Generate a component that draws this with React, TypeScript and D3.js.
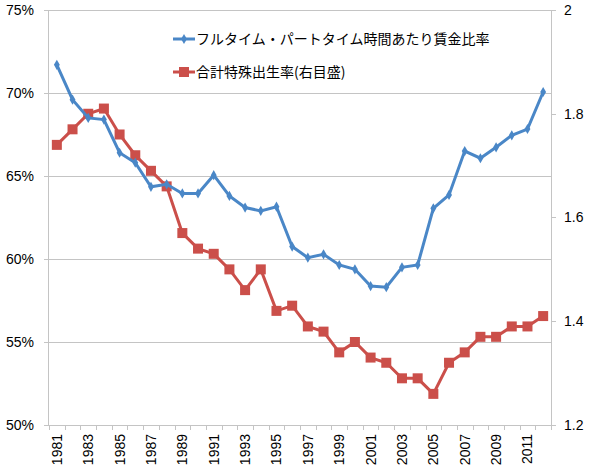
import React, { useEffect, useRef } from 'react';
import * as d3 from 'd3';

// years on the x axis
const years: number[] = d3.range(1981, 2013);

// full-time vs part-time hourly wage ratio (%), left axis
const wageRatio: number[] = [
  71.7, 69.6, 68.5, 68.4, 66.4, 65.8, 64.35, 64.5, 63.95, 63.95, 65.05, 63.8,
  63.1, 62.9, 63.15, 60.75, 60.08, 60.28, 59.64, 59.38, 58.37, 58.3, 59.5,
  59.64, 63.05, 63.86, 66.5, 66.07, 66.73, 67.45, 67.83, 70.06,
];

// total fertility rate, right axis
const fertility: number[] = [
  1.74, 1.77, 1.8, 1.81, 1.76, 1.72, 1.69, 1.66, 1.57, 1.54, 1.53, 1.5, 1.46,
  1.5, 1.42, 1.43, 1.39, 1.38, 1.34, 1.36, 1.33, 1.32, 1.29, 1.29, 1.26, 1.32,
  1.34, 1.37, 1.37, 1.39, 1.39, 1.41,
];

const leftTicks: number[] = [50, 55, 60, 65, 70, 75];
const rightTicks: number[] = [1.2, 1.4, 1.6, 1.8, 2];

const seriesNames: string[] = [
  'フルタイム・パートタイム時間あたり賃金比率',
  '合計特殊出生率(右目盛)',
];

const BLUE = '#4A87C7';
const RED = '#CB4F4A';

const App: React.FC = () => {
  const chartRef = useRef<SVGSVGElement | null>(null);
  const width = 592;
  const height = 474;

  useEffect(() => {
    if (!chartRef.current) return;
    const svg = d3.select(chartRef.current);
    svg.selectAll('*').remove();

    const margin = { top: 10, right: 41, bottom: 49, left: 49 };
    const innerW = width - margin.left - margin.right;
    const innerH = height - margin.top - margin.bottom;

    const g = svg
      .append('g')
      .attr('transform', `translate(${margin.left},${margin.top})`);

    const x = d3
      .scaleBand<number>()
      .domain(years)
      .range([0, innerW])
      .padding(0);
    const cx = (yr: number) => (x(yr) as number) + x.bandwidth() / 2;

    const yL = d3.scaleLinear().domain([50, 75]).range([innerH, 0]);
    const yR = d3.scaleLinear().domain([1.2, 2]).range([innerH, 0]);

    const tickFont = '"Liberation Sans", Arial, sans-serif';

    // gridlines
    g.selectAll('line.grid')
      .data(leftTicks.filter((t) => t !== 50))
      .enter()
      .append('line')
      .attr('x1', 0)
      .attr('x2', innerW)
      .attr('y1', (d) => Math.round(yL(d)) + 0.5)
      .attr('y2', (d) => Math.round(yL(d)) + 0.5)
      .attr('stroke', '#c4c4c4')
      .attr('stroke-width', 1);

    // left axis
    const left = g.append('g');
    left
      .append('line')
      .attr('x1', -0.5)
      .attr('x2', -0.5)
      .attr('y1', 0)
      .attr('y2', innerH)
      .attr('stroke', '#c4c4c4');
    left
      .selectAll('line.tick')
      .data(leftTicks)
      .enter()
      .append('line')
      .attr('x1', -5)
      .attr('x2', 0)
      .attr('y1', (d) => Math.round(yL(d)) + 0.5)
      .attr('y2', (d) => Math.round(yL(d)) + 0.5)
      .attr('stroke', '#c4c4c4');
    left
      .selectAll('text')
      .data(leftTicks)
      .enter()
      .append('text')
      .attr('x', -15)
      .attr('y', (d) => yL(d))
      .attr('dy', '0.35em')
      .attr('text-anchor', 'end')
      .attr('font-family', tickFont)
      .attr('font-size', 14)
      .text((d) => `${d}%`);

    // right axis
    const right = g.append('g').attr('transform', `translate(${innerW},0)`);
    right
      .append('line')
      .attr('x1', 0.5)
      .attr('x2', 0.5)
      .attr('y1', 0)
      .attr('y2', innerH)
      .attr('stroke', '#c4c4c4');
    right
      .selectAll('line.tick')
      .data(rightTicks)
      .enter()
      .append('line')
      .attr('x1', 0)
      .attr('x2', 5)
      .attr('y1', (d) => Math.round(yR(d)) + 0.5)
      .attr('y2', (d) => Math.round(yR(d)) + 0.5)
      .attr('stroke', '#c4c4c4');
    right
      .selectAll('text')
      .data(rightTicks)
      .enter()
      .append('text')
      .attr('x', 13)
      .attr('y', (d) => yR(d))
      .attr('dy', '0.35em')
      .attr('font-family', tickFont)
      .attr('font-size', 14)
      .text((d) => d3.format('~g')(d));

    // bottom axis
    const bottom = g.append('g').attr('transform', `translate(0,${innerH})`);
    bottom
      .append('line')
      .attr('x1', 0)
      .attr('x2', innerW)
      .attr('y1', 0.5)
      .attr('y2', 0.5)
      .attr('stroke', '#c4c4c4');
    bottom
      .selectAll('line.tick')
      .data([...years.map((yr) => x(yr) as number), innerW])
      .enter()
      .append('line')
      .attr('x1', (d) => Math.round(d) + 0.5)
      .attr('x2', (d) => Math.round(d) + 0.5)
      .attr('y1', 0)
      .attr('y2', 5)
      .attr('stroke', '#c4c4c4');
    bottom
      .selectAll('text')
      .data(years.filter((yr) => (yr - 1981) % 2 === 0))
      .enter()
      .append('text')
      .attr('transform', (d) => `translate(${cx(d)},9) rotate(-90)`)
      .attr('dy', '0.35em')
      .attr('text-anchor', 'end')
      .attr('font-family', tickFont)
      .attr('font-size', 14)
      .text((d) => d);

    // lines
    const blueLine = d3
      .line<number>()
      .x((_, i) => cx(years[i]))
      .y((d) => yL(d));
    const redLine = d3
      .line<number>()
      .x((_, i) => cx(years[i]))
      .y((d) => yR(d));

    g.append('path')
      .datum(fertility)
      .attr('fill', 'none')
      .attr('stroke', RED)
      .attr('stroke-width', 3)
      .attr('d', redLine);
    g.selectAll('rect.red')
      .data(fertility)
      .enter()
      .append('rect')
      .attr('x', (_, i) => cx(years[i]) - 5)
      .attr('y', (d) => yR(d) - 5)
      .attr('width', 10)
      .attr('height', 10)
      .attr('fill', RED);

    g.append('path')
      .datum(wageRatio)
      .attr('fill', 'none')
      .attr('stroke', BLUE)
      .attr('stroke-width', 3)
      .attr('d', blueLine);
    const diamond = d3.symbol().type(d3.symbolDiamond).size(30);
    g.selectAll('path.blue')
      .data(wageRatio)
      .enter()
      .append('path')
      .attr('transform', (d, i) => `translate(${cx(years[i])},${yL(d)})`)
      .attr('d', diamond)
      .attr('fill', BLUE);

    // legend
    const legend = svg.append('g');
    const legendRows = [
      { name: seriesNames[0], color: BLUE, y: 39, marker: 'diamond' },
      { name: seriesNames[1], color: RED, y: 72, marker: 'square' },
    ];
    legendRows.forEach((r) => {
      legend
        .append('line')
        .attr('x1', 173)
        .attr('x2', 195)
        .attr('y1', r.y)
        .attr('y2', r.y)
        .attr('stroke', r.color)
        .attr('stroke-width', 3);
      if (r.marker === 'diamond') {
        legend
          .append('path')
          .attr('transform', `translate(184,${r.y})`)
          .attr('d', diamond)
          .attr('fill', r.color);
      } else {
        legend
          .append('rect')
          .attr('x', 179)
          .attr('y', r.y - 5)
          .attr('width', 10)
          .attr('height', 10)
          .attr('fill', r.color);
      }
      legend
        .append('text')
        .attr('x', 196)
        .attr('y', r.y)
        .attr('dy', '0.35em')
        .attr('font-family', '"Noto Sans CJK JP", sans-serif')
        .attr('font-size', 14)
        .text(r.name);
    });
  }, []);

  return (
    <div style={{ position: 'absolute', left: 0, top: 0 }}>
      <svg ref={chartRef} width={width} height={height} style={{ display: 'block', background: '#fff' }}></svg>
    </div>
  );
};

export default App;
